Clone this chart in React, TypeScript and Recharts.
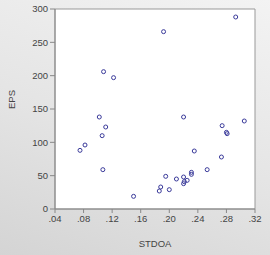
import {
  ScatterChart,
  Scatter,
  XAxis,
  YAxis,
  CartesianGrid,
  ReferenceArea,
} from "recharts";

const stdoa = [
  0.075, 0.082, 0.102, 0.106, 0.107, 0.108, 0.111, 0.122, 0.15, 0.186,
  0.188, 0.192, 0.195, 0.2, 0.21, 0.22, 0.221, 0.22, 0.225, 0.22,
  0.231, 0.231, 0.235, 0.253, 0.273, 0.274, 0.28, 0.281, 0.293, 0.305,
];
const eps = [
  88, 96, 138, 110, 59, 206, 123, 197, 19, 27,
  33, 266, 49, 29, 45, 48, 41, 38, 43, 138,
  52, 55, 87, 59, 78, 125, 115, 113, 288, 132,
];
const xTicks = [0.04, 0.08, 0.12, 0.16, 0.2, 0.24, 0.28, 0.32];
const yTicks = [0, 50, 100, 150, 200, 250, 300];

const points = stdoa.map((x, i) => ({ x, y: eps[i] }));

const fmtX = (v: number) => v.toFixed(2).replace(/^0/, "");

const tickStyle = { fill: "#444", fontSize: 9.5, fontFamily: "Liberation Sans, Arial" };

export default function App() {
  return (
    <div
      style={{
        position: "absolute",
        left: 0,
        top: 0,
        width: 270,
        height: 255,
        background: "linear-gradient(200deg, #f3f3f3 0%, #e4e4e4 55%, #d4d4d4 100%)",
      }}
    >
      <ScatterChart
        width={270}
        height={255}
        margin={{ top: 9, right: 15, bottom: 16, left: 0 }}
      >
        <CartesianGrid fill="#fff" horizontal={false} vertical={false} />
        <ReferenceArea
          x1={0.04}
          x2={0.32}
          y1={0}
          y2={300}
          fill="none"
          stroke="#999"
          strokeWidth={1}
        />
        <XAxis
          type="number"
          dataKey="x"
          domain={[0.04, 0.32]}
          ticks={xTicks}
          tickFormatter={fmtX}
          interval={0}
          height={30}
          stroke="#888"
          tickSize={4}
          tick={tickStyle}
          label={{
            value: "STDOA",
            position: "insideBottom",
            offset: -8,
            fill: "#444",
            fontSize: 9.5,
            fontFamily: "Liberation Sans, Arial",
          }}
        />
        <YAxis
          type="number"
          dataKey="y"
          domain={[0, 300]}
          ticks={yTicks}
          interval={0}
          width={55}
          stroke="#888"
          tickSize={5}
          tick={tickStyle}
          label={{
            value: "EPS",
            angle: -90,
            position: "insideLeft",
            offset: 12,
            fill: "#444",
            fontSize: 9.5,
            fontFamily: "Liberation Sans, Arial",
          }}
        />
        <Scatter
          data={points}
          isAnimationActive={false}
          shape={(p: any) => (
            <circle
              cx={p.cx}
              cy={p.cy}
              r={2}
              fill="none"
              stroke="#3a3a9a"
              strokeWidth={1}
            />
          )}
        />
      </ScatterChart>
    </div>
  );
}
